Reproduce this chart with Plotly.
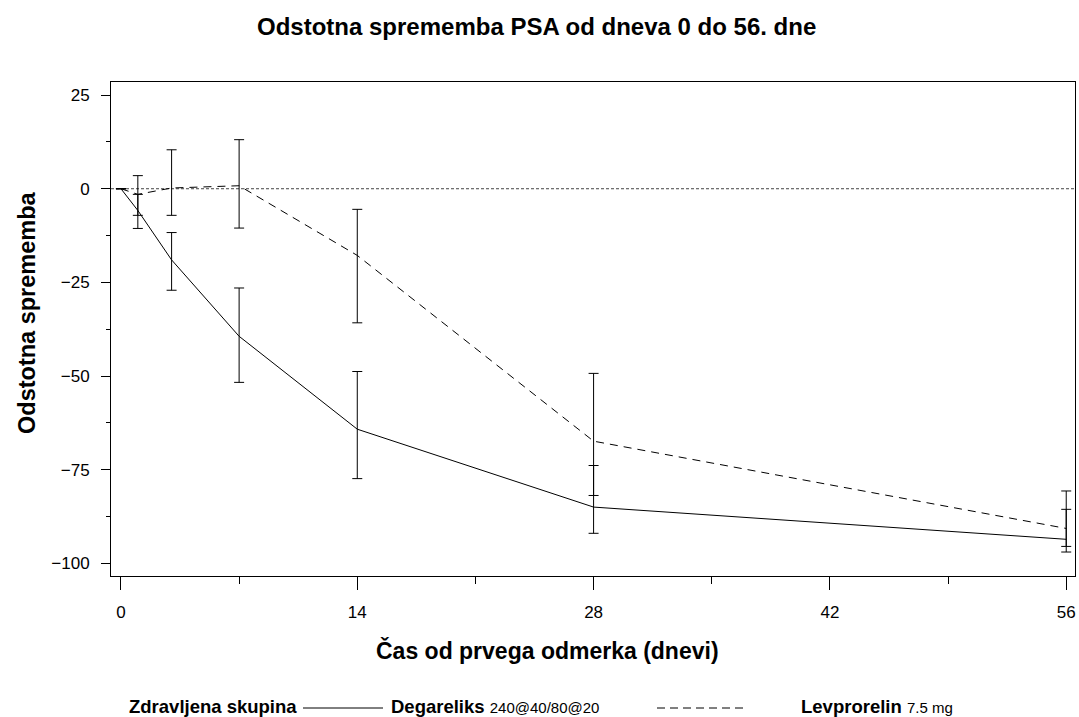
import plotly.graph_objects as go

# ---- data ----
days = [0, 1, 3, 7, 14, 28, 56]

degarelix_mean = [0, -5.8, -19.0, -39.4, -64.2, -85.0, -93.6]
degarelix_upper = [0, -1.5, -11.7, -26.5, -48.8, -73.9, -85.6]
degarelix_lower = [0, -10.6, -27.1, -51.7, -77.4, -92.0, -97.0]

leuprorelin_mean = [0, -1.5, 0.2, 0.8, -17.8, -67.4, -90.7]
leuprorelin_upper = [0, 3.5, 10.4, 13.1, -5.5, -49.3, -80.7]
leuprorelin_lower = [0, -7.1, -7.1, -10.5, -35.8, -81.9, -95.5]

x_ticks = [0, 14, 28, 42, 56]
y_ticks = [-100, -75, -50, -25, 0, 25]

title_text = "Odstotna sprememba PSA od dneva 0 do 56. dne"
x_title = "Čas od prvega odmerka (dnevi)"
y_title = "Odstotna sprememba"
legend_title = "Zdravljena skupina"
series_names = ["Degareliks", "Levprorelin"]
series_doses = ["240@40/80@20", "7.5 mg"]

FONT = "Liberation Sans, Arial, sans-serif"
W, H = 1079, 717
# plot area in screenshot pixels
L, R, T, B = 111, 1075, 82, 576
LEG_Y = 706


def px(x):
    return (x - L) / (R - L)


def py(y):
    return (B - y) / (B - T)


def err(mean, up, lo):
    plus = [u - m for u, m in zip(up, mean)]
    minus = [m - l for m, l in zip(mean, lo)]
    return plus, minus


fig = go.Figure()

dp, dm = err(degarelix_mean, degarelix_upper, degarelix_lower)
lp, lm = err(leuprorelin_mean, leuprorelin_upper, leuprorelin_lower)

fig.add_trace(go.Scatter(
    x=days, y=leuprorelin_mean, mode="lines",
    line=dict(color="black", width=1, dash="8px,6px"),
    error_y=dict(type="data", array=lp, arrayminus=lm, color="black",
                 thickness=1, width=5),
    showlegend=False,
))
fig.add_trace(go.Scatter(
    x=days, y=degarelix_mean, mode="lines",
    line=dict(color="black", width=1),
    error_y=dict(type="data", array=dp, arrayminus=dm, color="black",
                 thickness=1, width=5),
    showlegend=False,
))

# zero reference line
fig.add_shape(type="line", xref="paper", yref="y", x0=0, x1=1, y0=0, y1=0,
              line=dict(color="#444", width=1, dash="3px,2px"), layer="below")

annotations = [
    dict(text="<b>%s</b>" % title_text, x=px(536), y=py(27), xref="paper", yref="paper",
         showarrow=False, font=dict(size=24, color="black", family=FONT),
         xanchor="center", yanchor="middle"),
    dict(text="<b>%s</b>" % x_title, x=px(547), y=py(650), xref="paper", yref="paper",
         showarrow=False, font=dict(size=23, color="black", family=FONT),
         xanchor="center", yanchor="middle"),
    dict(text="<b>%s</b>" % y_title, x=px(27), y=py(313), xref="paper", yref="paper",
         showarrow=False, textangle=-90, font=dict(size=23.5, color="black", family=FONT),
         xanchor="center", yanchor="middle"),
    dict(text="<b>%s</b>" % legend_title, x=px(127), y=py(LEG_Y), xref="paper", yref="paper",
         showarrow=False, font=dict(size=18.5, color="black", family=FONT),
         xanchor="left", yanchor="middle"),
    dict(text="<b>%s</b> <span style='font-size:15px'>%s</span>" % (series_names[0], series_doses[0]),
         x=px(389), y=py(LEG_Y), xref="paper", yref="paper",
         showarrow=False, font=dict(size=18.5, color="black", family=FONT),
         xanchor="left", yanchor="middle"),
    dict(text="<b>%s</b> <span style='font-size:15px'>%s</span>" % (series_names[1], series_doses[1]),
         x=px(799), y=py(LEG_Y), xref="paper", yref="paper",
         showarrow=False, font=dict(size=18.5, color="black", family=FONT),
         xanchor="left", yanchor="middle"),
]

# legend line samples
fig.add_shape(type="line", xref="paper", yref="paper", x0=px(303), x1=px(383),
              y0=py(LEG_Y + 2), y1=py(LEG_Y + 2), line=dict(color="black", width=1))
fig.add_shape(type="line", xref="paper", yref="paper", x0=px(657), x1=px(746),
              y0=py(LEG_Y + 2), y1=py(LEG_Y + 2), line=dict(color="black", width=1, dash="8px,5px"))

fig.update_layout(
    width=W, height=H,
    margin=dict(l=L, r=W - R, t=T, b=H - B),
    plot_bgcolor="white", paper_bgcolor="white",
    font=dict(family=FONT, color="black", size=16),
    annotations=annotations,
    showlegend=False,
)

fig.update_xaxes(
    range=[-0.59, 56.52], tickvals=x_ticks, ticktext=[str(v) for v in x_ticks],
    showgrid=False, zeroline=False, showline=True, linecolor="black", linewidth=1,
    mirror=True, ticks="outside", ticklen=13, tickcolor="black", tickwidth=1,
    tickfont=dict(size=17, family=FONT, color="black"), ticklabelstandoff=8,
    minor=dict(ticks="outside", tickvals=[7, 21, 35, 49], ticklen=7, tickcolor="black", tickwidth=1),
)
fig.update_yaxes(
    range=[-103.4, 28.5], tickvals=y_ticks,
    showgrid=False, zeroline=False, showline=True, linecolor="black", linewidth=1,
    mirror=True, ticks="outside", ticklen=9, tickcolor="black", tickwidth=1,
    tickfont=dict(size=17, family=FONT, color="black"), ticklabelstandoff=8,
    minor=dict(ticks="outside", tickvals=[-87.5, -62.5, -37.5, -12.5, 12.5], ticklen=4,
               tickcolor="black", tickwidth=1),
)

fig.write_html(
    "out.html",
    config={"displayModeBar": False},
    post_script="document.body.style.margin='0';document.body.style.overflow='hidden';",
)
